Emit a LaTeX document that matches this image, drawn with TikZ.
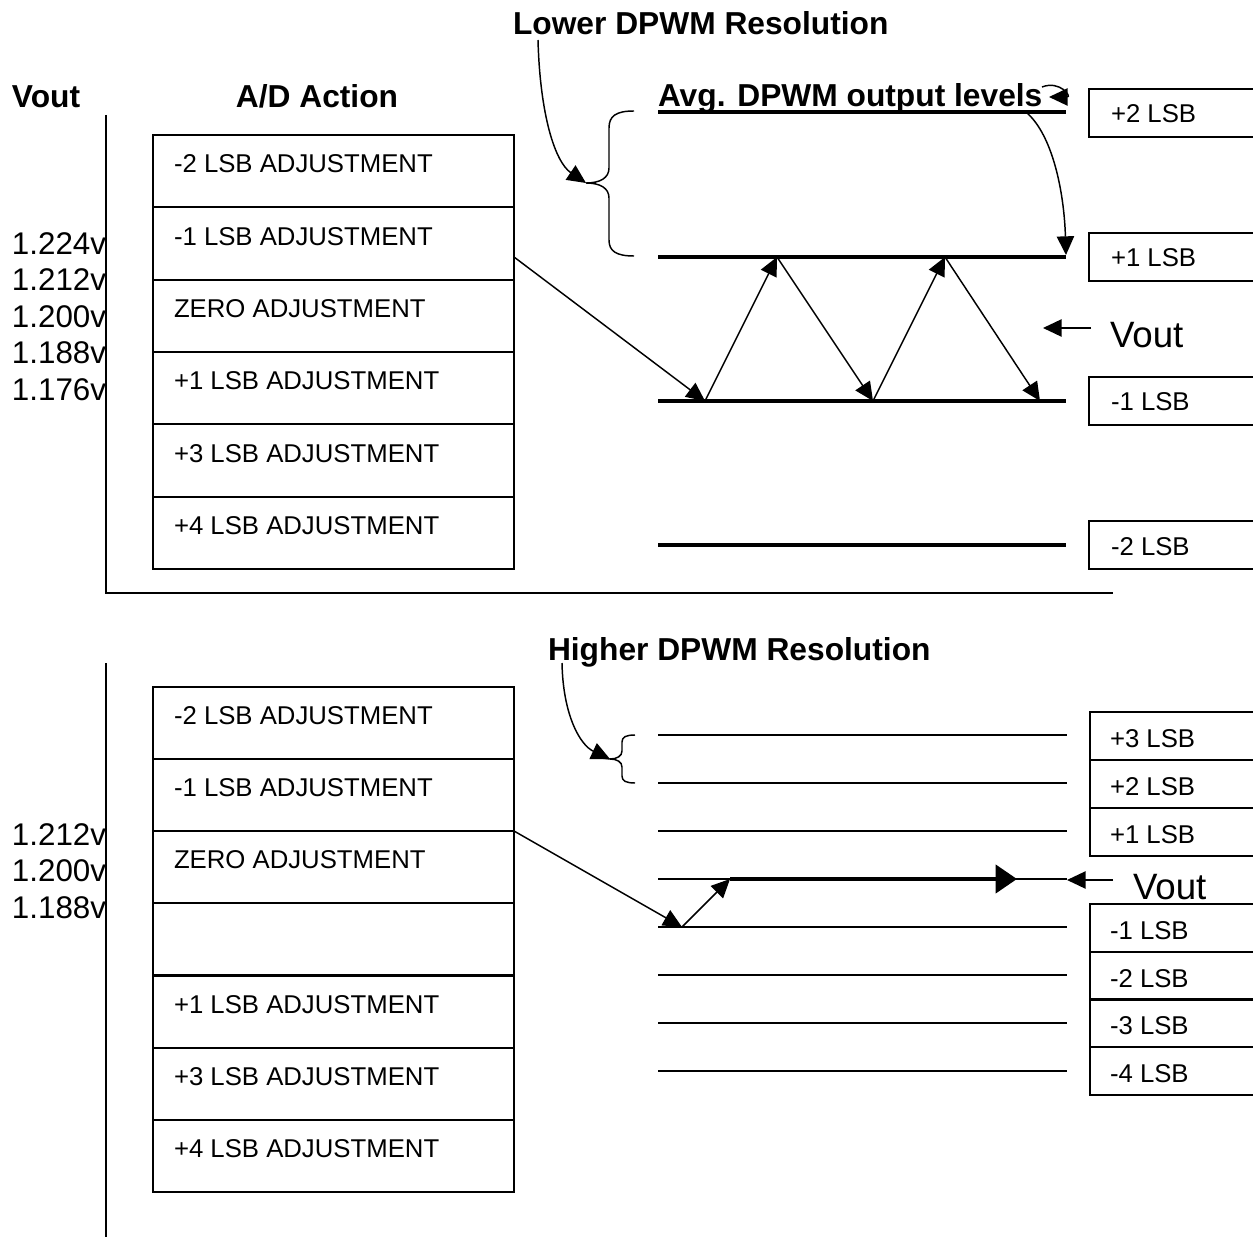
\documentclass[tikz,border=0pt]{standalone}
\usepackage{fontspec}
\setmainfont{Liberation Sans}
\usetikzlibrary{arrows.meta}
\begin{document}
\begin{tikzpicture}[x=0.75pt,y=-0.75pt,
  every node/.style={inner sep=0pt,outer sep=0pt},
  boxtxt/.style={anchor=base west,font=\fontsize{19.3}{23}\selectfont},
  titletxt/.style={anchor=base west,font=\fontsize{23.8}{28}\selectfont\bfseries},
  volttxt/.style={anchor=base west,font=\fontsize{23.5}{28}\selectfont},
  bigvout/.style={anchor=base west,font=\fontsize{27.5}{33}\selectfont},
  axisline/.style={line width=1.5pt},
  cell/.style={draw,line width=1.5pt,minimum width=270.75pt,minimum height=54.2pt,anchor=north west},
  lsbbox/.style={draw,line width=1.5pt,minimum width=150pt,minimum height=36pt,anchor=north west},
  lvlthick/.style={line width=3pt},
  lvlthin/.style={line width=1.5pt},
  arr/.style={line width=1.1pt,-{Triangle[length=14pt,width=13pt]}},
  bigarr/.style={line width=3pt,-{Triangle[length=16pt,width=21pt]}},
  bracepath/.style={line width=1.1pt},
]
\useasboundingbox (0,0) rectangle (1253,1237);
\clip (0,0) rectangle (1253,1237);

% ---------------- upper diagram ----------------
\node[titletxt] (lowres) at (513,35) {Lower DPWM Resolution};
\node[titletxt] (vouthead) at (12,108) {Vout};
\node[titletxt,anchor=base] (adhead) at (317,108) {A/D Action};
\node[titletxt] (avghead) at (658,107) {Avg. DPWM output levels};

\coordinate (axtop) at (106,115);
\coordinate (axorig) at (106,593);
\coordinate (axend) at (1113,593);
\draw[axisline] (axtop) -- (axorig) -- (axend);

\foreach \i/\t in {0/-2 LSB ADJUSTMENT,1/-1 LSB ADJUSTMENT,2/ZERO ADJUSTMENT,3/+1 LSB ADJUSTMENT,4/+3 LSB ADJUSTMENT,5/+4 LSB ADJUSTMENT}{
  \node[cell] (ta\i) at (153,{135+72.33*\i}) {};
  \node[boxtxt] (tat\i) at (174,{172.7+72.33*\i}) {\t};
}

\foreach \i/\v in {0/1.224v,1/1.212v,2/1.200v,3/1.188v,4/1.176v}{
  \node[volttxt] (tv\i) at (12,{254.5+36.5*\i}) {\v};
}

\foreach \n/\y in {a/112,b/257,c/401,d/545}{
  \coordinate (l\n w) at (658,\y);
  \coordinate (l\n e) at (1066,\y);
  \draw[lvlthick] (l\n w) -- (l\n e);
}

\foreach \n/\y/\t in {a/89/+2 LSB,b/233/+1 LSB,c/377/-1 LSB,d/521/-2 LSB}{
  \node[lsbbox] (tb\n) at (1089,\y) {};
  \node[boxtxt] (tbt\n) at (1111,{\y+34}) {\t};
}

\coordinate (z0) at (514,257);
\coordinate (z1) at (705,401);
\coordinate (z2) at (777,257);
\coordinate (z3) at (873,401);
\coordinate (z4) at (945,257);
\coordinate (z5) at (1040,401);
\draw[arr] (z0) -- (z1);
\draw[arr] (z1) -- (z2);
\draw[arr] (z2) -- (z3);
\draw[arr] (z3) -- (z4);
\draw[arr] (z4) -- (z5);

\node[bigvout] (vout1) at (1110,348) {Vout};
\coordinate (v1tail) at (1091,328);
\coordinate (v1tip) at (1043,328);
\draw[arr] (v1tail) -- (v1tip);

\coordinate (lowstart) at (538,40);
\coordinate (bracetip1) at (586,183);
\draw[arr] (lowstart) .. controls (540,115) and (555,162) .. (bracetip1);
\draw[bracepath] (634,111) .. controls (616,111) and (609,116) .. (609,128) -- (609,168)
  .. controls (609,178) and (600,183) .. (bracetip1)
  .. controls (600,183) and (609,188) .. (609,198) -- (609,240)
  .. controls (609,251) and (616,256) .. (634,256);

\coordinate (bigcs) at (1027,113);
\coordinate (bigce) at (1066,255);
\draw[arr] (bigcs) .. controls (1052,135) and (1064,190) .. (bigce);
\coordinate (smcs) at (1042,87);
\coordinate (smce) at (1049,97);
\draw[arr] (smcs) .. controls (1060,80) and (1072,97) .. (smce);

% ---------------- lower diagram ----------------
\node[titletxt] (highres) at (548,660) {Higher DPWM Resolution};
\coordinate (bxtop) at (106,663);
\coordinate (bxbot) at (106,1240);
\draw[axisline] (bxtop) -- (bxbot);

\foreach \i/\t in {0/-2 LSB ADJUSTMENT,1/-1 LSB ADJUSTMENT,2/ZERO ADJUSTMENT,3/,4/+1 LSB ADJUSTMENT,5/+3 LSB ADJUSTMENT,6/+4 LSB ADJUSTMENT}{
  \node[cell] (ba\i) at (153,{687+72.1*\i}) {};
  \node[boxtxt] (bat\i) at (174,{724.7+72.1*\i}) {\t};
}

\foreach \i/\v in {0/1.212v,1/1.200v,2/1.188v}{
  \node[volttxt] (bv\i) at (12,{845+36.5*\i}) {\v};
}

\foreach \k in {0,...,7}{
  \coordinate (m\k w) at (658,{735+48*\k});
  \coordinate (m\k e) at (1067,{735+48*\k});
  \draw[lvlthin] (m\k w) -- (m\k e);
}

\foreach \n/\y/\t in {p/712/+3 LSB,q/760/+2 LSB,r/808/+1 LSB,s/904/-1 LSB,t/952/-2 LSB,u/999/-3 LSB,v/1047/-4 LSB}{
  \node[lsbbox] (bb\n) at (1090,\y) {};
  \node[boxtxt] (bbt\n) at (1110,{\y+35}) {\t};
}

\coordinate (y0) at (514,831);
\coordinate (y1) at (682,927);
\coordinate (y2) at (730,879);
\coordinate (y3) at (1017,879);
\draw[arr] (y0) -- (y1);
\draw[arr] (y1) -- (y2);
\draw[bigarr] (y2) -- (y3);

\node[bigvout] (vout2) at (1133,899) {Vout};
\coordinate (v2tail) at (1113,880);
\coordinate (v2tip) at (1067,880);
\draw[arr] (v2tail) -- (v2tip);

\coordinate (histart) at (562,663);
\coordinate (bracetip2) at (610,759);
\draw[arr] (histart) .. controls (563,715) and (580,745) .. (bracetip2);
\draw[bracepath] (635,735) .. controls (626,735) and (622,737) .. (622,742) -- (622,751)
  .. controls (622,756) and (617,759) .. (bracetip2)
  .. controls (617,759) and (622,762) .. (622,767) -- (622,776)
  .. controls (622,781) and (626,783) .. (635,783);
\end{tikzpicture}
\end{document}
